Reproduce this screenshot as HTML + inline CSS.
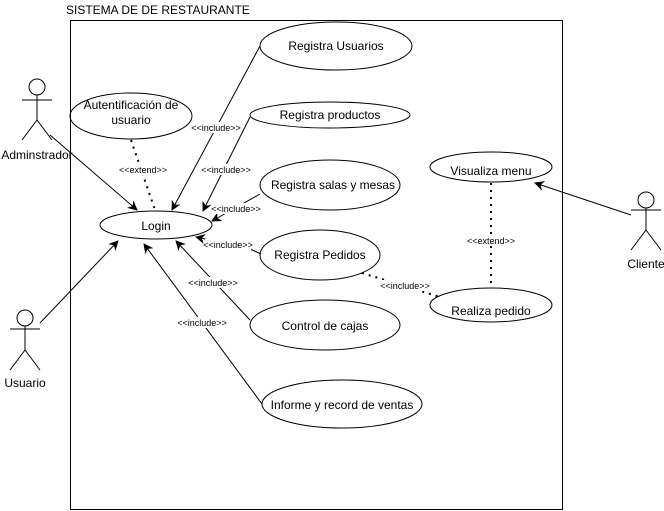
<!DOCTYPE html>
<html><head><meta charset="utf-8"><style>
html,body{margin:0;padding:0;background:#fff}
svg{display:block}
text{font-family:"Liberation Sans",Arial,sans-serif;fill:#000}
</style></head><body>
<svg width="664" height="511" viewBox="0 0 664 511" xmlns="http://www.w3.org/2000/svg">
<defs>
<marker id="a" markerWidth="10" markerHeight="10" refX="9" refY="5" orient="auto" markerUnits="userSpaceOnUse">
<path d="M0,0 L10,5 L0,10 L3,5 Z" fill="#000"/>
</marker>
</defs>
<g fill="none" stroke="#000" stroke-width="1">
<rect x="70.5" y="20.5" width="492" height="489"/>
<ellipse cx="336" cy="46" rx="76" ry="24"/>
<ellipse cx="131" cy="116" rx="61" ry="23"/>
<ellipse cx="330" cy="115" rx="80" ry="13"/>
<ellipse cx="330" cy="185" rx="70" ry="25"/>
<ellipse cx="156" cy="225" rx="56" ry="14"/>
<ellipse cx="320" cy="255" rx="60" ry="25"/>
<ellipse cx="325" cy="325" rx="75" ry="25"/>
<ellipse cx="342" cy="404" rx="80" ry="24"/>
<ellipse cx="491" cy="167" rx="61" ry="15"/>
<ellipse cx="491" cy="305" rx="61" ry="17"/>
<circle cx="37" cy="87" r="8"/><path d="M37,95 V120 M22,100 H52 M37,120 L22,140 M37,120 L52,140"/>
<circle cx="25" cy="318" r="8"/><path d="M25,326 V350 M10,329 H40 M25,350 L10,370 M25,350 L40,370"/>
<circle cx="646" cy="200" r="8"/><path d="M646,208 V230 M631,210 H661 M646,230 L631,250 M646,230 L661,250"/>
<line x1="50" y1="135" x2="137" y2="210" marker-end="url(#a)"/>
<line x1="40" y1="323" x2="118" y2="241" marker-end="url(#a)"/>
<line x1="260" y1="46" x2="172" y2="210" marker-end="url(#a)"/>
<line x1="250" y1="117" x2="203" y2="211" marker-end="url(#a)"/>
<line x1="260" y1="194" x2="212" y2="221" marker-end="url(#a)"/>
<path d="M261,254 L250,249 L196,237" marker-end="url(#a)"/>
<line x1="250" y1="320" x2="176" y2="241" marker-end="url(#a)"/>
<line x1="262" y1="404" x2="144" y2="244" marker-end="url(#a)"/>
<line x1="631" y1="215" x2="535" y2="183" marker-end="url(#a)"/>
</g>
<g fill="none" stroke="#000" stroke-width="2" stroke-dasharray="2,5">
<line x1="131" y1="140" x2="155" y2="210"/>
<line x1="362" y1="273" x2="440" y2="297"/>
<line x1="491" y1="183" x2="491" y2="288"/>
</g>
<g font-size="12" text-anchor="middle">
<text x="336" y="50">Registra Usuarios</text>
<text x="131" y="109">Autentificación de</text>
<text x="131" y="124">usuario</text>
<text x="330" y="119">Registra productos</text>
<text x="333" y="189">Registra salas y mesas</text>
<text x="156" y="230">Login</text>
<text x="320" y="259">Registra Pedidos</text>
<text x="325" y="330">Control de cajas</text>
<text x="342" y="409">Informe y record de ventas</text>
<text x="491" y="175">Visualiza menu</text>
<text x="491" y="315">Realiza pedido</text>
<text x="37" y="159">Adminstrador</text>
<text x="25" y="387">Usuario</text>
<text x="646" y="268">Cliente</text>
</g>
<text x="66" y="14" font-size="12">SISTEMA DE DE RESTAURANTE</text>
<g font-size="9" text-anchor="middle">
<rect x="118" y="164" width="50" height="11" fill="#fff"/>
<text x="143" y="173">&lt;&lt;extend&gt;&gt;</text>
<rect x="194" y="122" width="46" height="11" fill="#fff"/>
<text x="216" y="131">&lt;&lt;include&gt;&gt;</text>
<rect x="203" y="164" width="46" height="11" fill="#fff"/>
<text x="226" y="173">&lt;&lt;include&gt;&gt;</text>
<rect x="213" y="203" width="46" height="11" fill="#fff"/>
<text x="236" y="212">&lt;&lt;include&gt;&gt;</text>
<rect x="205" y="239" width="46" height="11" fill="#fff"/>
<text x="228" y="248">&lt;&lt;include&gt;&gt;</text>
<rect x="190" y="277" width="46" height="11" fill="#fff"/>
<text x="213" y="286">&lt;&lt;include&gt;&gt;</text>
<rect x="179" y="317" width="46" height="11" fill="#fff"/>
<text x="202" y="326">&lt;&lt;include&gt;&gt;</text>
<rect x="382" y="280" width="46" height="11" fill="#fff"/>
<text x="405" y="289">&lt;&lt;include&gt;&gt;</text>
<rect x="466" y="235" width="50" height="11" fill="#fff"/>
<text x="491" y="244">&lt;&lt;extend&gt;&gt;</text>
</g>
</svg>
</body></html>
